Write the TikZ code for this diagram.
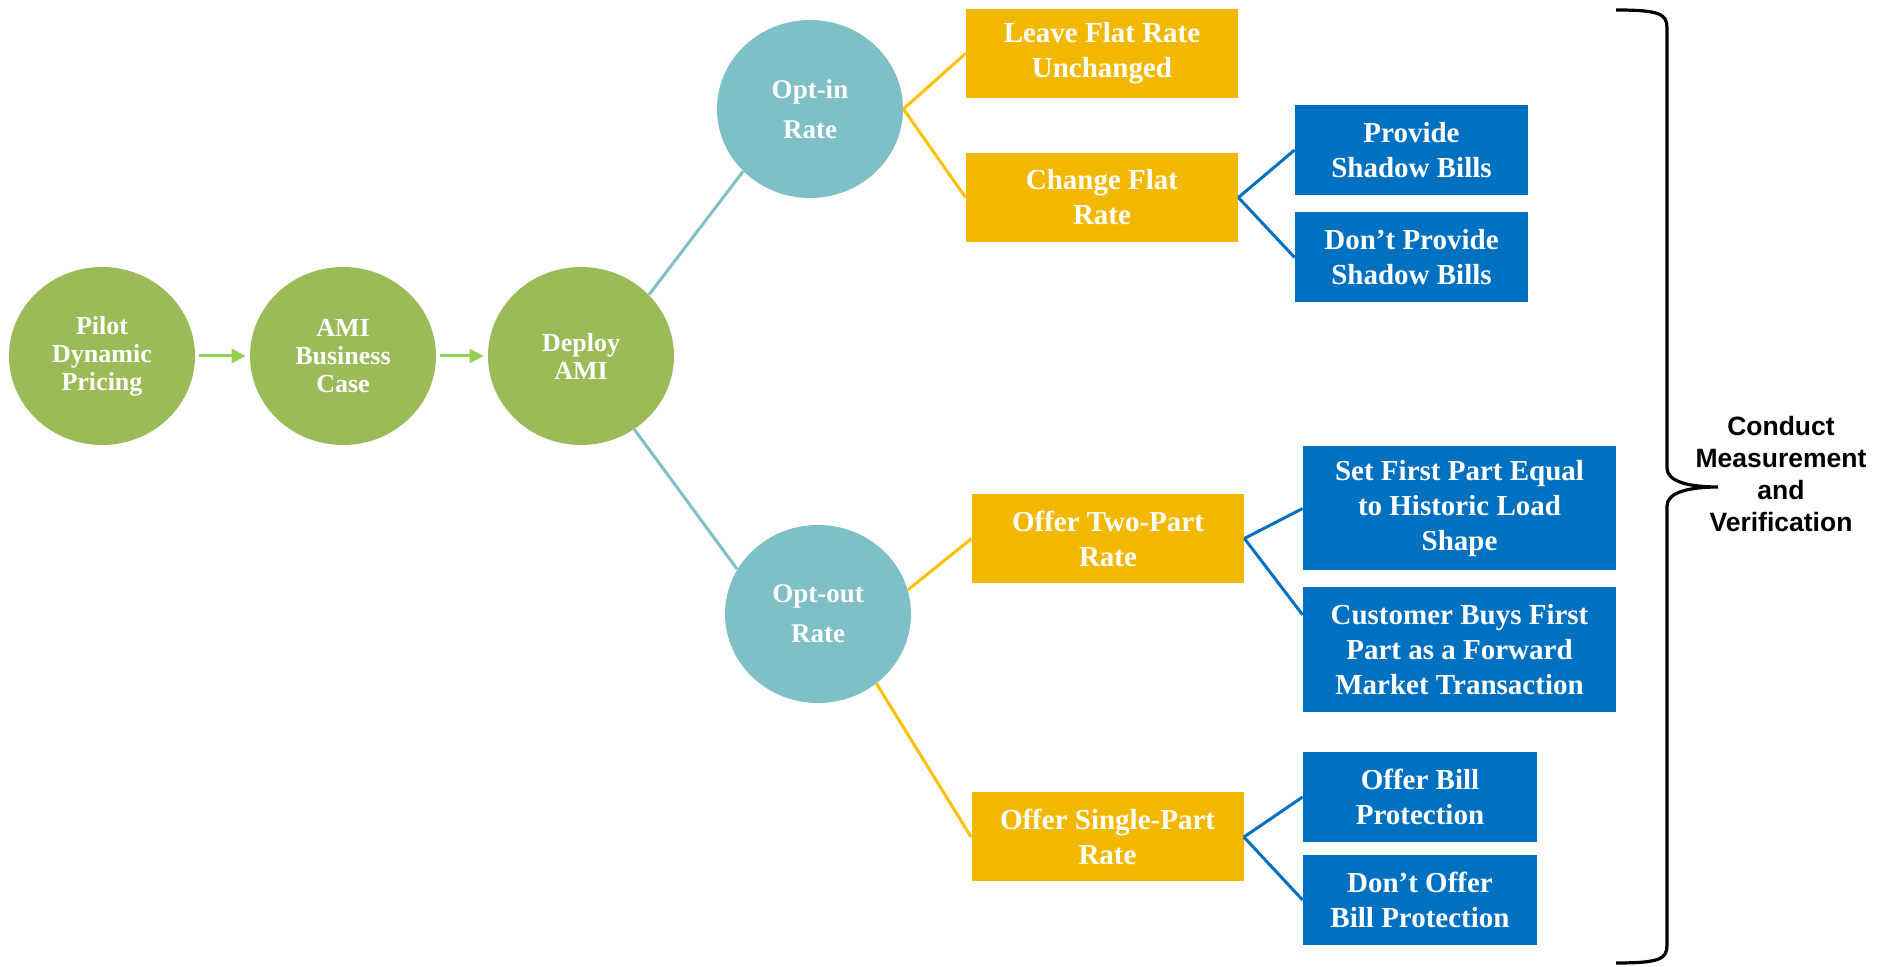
\documentclass[tikz,border=0pt]{standalone}
\usepackage{fontspec}
\setmainfont{Liberation Serif}
\newfontfamily\arialfont{Liberation Sans}
\usetikzlibrary{shapes.geometric,calc,arrows.meta}
\definecolor{cgreen}{HTML}{9BBB59}
\definecolor{cteal}{HTML}{7FBFC6}
\definecolor{cyellow}{HTML}{F2B800}
\definecolor{cblue}{HTML}{0070C0}
\definecolor{carrow}{HTML}{92D050}
\definecolor{cyline}{HTML}{FFC000}
\begin{document}
\begin{tikzpicture}[x=0.5pt,y=-0.5pt,
  circ/.style={ellipse, inner sep=0pt, minimum width=93pt, minimum height=89pt, text=white, align=center},
  greenc/.style={circ, fill=cgreen, font=\bfseries\fontsize{13}{14}\selectfont},
  tealc/.style={circ, fill=cteal, font=\bfseries\fontsize{13.5}{20}\selectfont},
  boxbase/.style={rectangle, inner sep=0pt, text=white, align=center, font=\bfseries\fontsize{14.5}{17.5}\selectfont},
  ybox/.style={boxbase, fill=cyellow, minimum width=136pt, minimum height=44.5pt},
  bbox/.style={boxbase, fill=cblue, minimum width=117pt, minimum height=45pt},
  bwide/.style={boxbase, fill=cblue, minimum width=156.5pt, minimum height=62pt},
  garrow/.style={carrow, line width=1.5pt, -{Triangle[length=7pt,width=7pt]}},
  tline/.style={cteal, line width=1.5pt},
  yline/.style={cyline, line width=1.5pt},
  bline/.style={cblue, line width=1.5pt},
  brace/.style={black, line width=1.6pt}
]
\useasboundingbox (0,0) rectangle (1887,967);

% circles
\node[greenc] (pilot) at (102,356) {Pilot\\Dynamic\\Pricing};
\node[greenc] (ami) at (343,356) {AMI\\Business\\Case};
\node[greenc] (deploy) at (581,356) {Deploy\\AMI};
\node[tealc] (optin) at (810,109) {Opt-in\\Rate};
\node[tealc] (optout) at (818,614) {Opt-out\\Rate};

% yellow boxes
\node[ybox] (leave) at (1102,53.5) {Leave Flat Rate\\Unchanged};
\node[ybox] (change) at (1102,197.5) {Change Flat\\Rate};
\node[ybox] (two) at (1108,538.5) {Offer Two-Part\\Rate};
\node[ybox] (single) at (1107.5,837) {Offer Single-Part\\Rate};

% blue boxes
\node[bbox, minimum width=116.5pt] (provide) at (1411.5,150) {Provide\\Shadow Bills};
\node[bbox, minimum width=116.5pt] (dprovide) at (1411.5,257.5) {Don’t Provide\\Shadow Bills};
\node[bwide] (setfirst) at (1459.5,508.5) {Set First Part Equal\\to Historic Load\\Shape};
\node[bwide, minimum height=62.5pt] (cust) at (1459.5,650) {Customer Buys First\\Part as a Forward\\Market Transaction};
\node[bbox] (offerbill) at (1420,797) {Offer Bill\\Protection};
\node[bbox] (doffer) at (1420,900) {Don’t Offer\\Bill Protection};

% arrows
\draw[garrow, shorten <=2pt, shorten >=2pt] (pilot.east) -- (ami.west);
\draw[garrow, shorten <=2pt, shorten >=2pt] (ami.east) -- (deploy.west);

% teal connectors
\draw[tline] (deploy.42) -- (optin.223);
\draw[tline] (deploy.-54) -- (optout.151);

% yellow connectors
\draw[yline] (optin.east) -- (leave.west);
\draw[yline] (optin.east) -- (change.west);
\draw[yline] (optout.15) -- (two.west);
\draw[yline] (optout.-50) -- (single.west);

% blue connectors
\draw[bline] (change.east) -- (provide.west);
\draw[bline] (change.east) -- (dprovide.west);
\draw[bline] (two.east) -- (setfirst.west);
\draw[bline] (two.east) -- ($(cust.north west)!0.22!(cust.south west)$);
\draw[bline] (single.east) -- (offerbill.west);
\draw[bline] (single.east) -- (doffer.west);

% brace
\coordinate (btop) at (1616,10);
\coordinate (bbot) at (1616,963);
\coordinate (btip) at (1718,487);
\draw[brace] (btop) .. controls (1660,10) and (1667,14) .. (1667,28) -- (1667,468)
  .. controls (1667,482) and (1690,487) .. (btip)
  .. controls (1690,487) and (1667,492) .. (1667,506) -- (1667,945)
  .. controls (1667,959) and (1660,963) .. (bbot);

\node[font=\arialfont\bfseries\fontsize{13.25}{16}\selectfont, align=center] (cmv) at (1781,474) {Conduct\\Measurement\\and\\Verification};
\end{tikzpicture}
\end{document}
